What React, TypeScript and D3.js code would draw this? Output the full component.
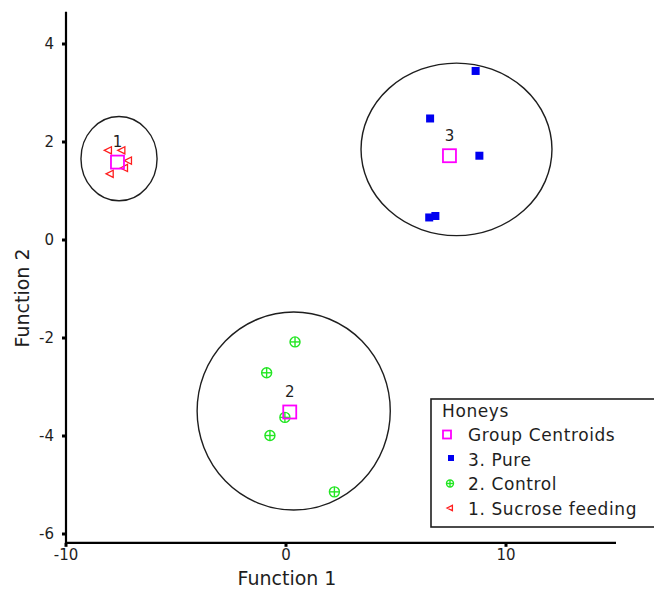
import * as React from 'react';
import * as d3 from 'd3';

// discriminant scores
const pureX = [8.62, 6.55, 8.79, 6.51, 6.79];
const pureY = [3.45, 2.48, 1.72, 0.46, 0.49];
const controlX = [0.41, -0.88, -0.05, -0.73, 2.2];
const controlY = [-2.08, -2.71, -3.62, -3.99, -5.14];
const sucroseX = [-8.08, -7.47, -7.17, -7.35, -8.0];
const sucroseY = [1.83, 1.83, 1.62, 1.47, 1.35];

const groupLabels = ['1', '2', '3'];
const centroidX = [-7.66, 0.17, 7.43];
const centroidY = [1.59, -3.51, 1.72];

// hand-drawn group outlines (data units)
const ringCx = [-7.59, 0.35, 7.75];
const ringCy = [1.66, -3.49, 1.85];
const ringRx = [1.73, 4.39, 4.34];
const ringRy = [0.86, 2.02, 1.76];

const xTicks = [-10, 0, 10];
const yTicks = [4, 2, 0, -2, -4, -6];
const legendTitle = 'Honeys';
const legendItems = ['Group Centroids', '3. Pure', '2. Control', '1. Sucrose feeding'];

const W = 654;
const H = 590;
const FONT = '"DejaVu Sans", sans-serif';
const INK = '#1e1e1e';
const MAGENTA = '#ff00ff';
const BLUE = '#0000f0';
const GREEN = '#22e622';
const RED = '#ff1e1e';

const x = d3.scaleLinear().domain([-10, 15]).range([66, 616]);
const y = d3.scaleLinear().domain([-6, 4]).range([534, 44]);
const yTop = 4.66;
const yBottom = -6.18;

function Square({ cx, cy, s }) {
  return <rect x={cx - s / 2} y={cy - s / 2} width={s} height={s} fill={BLUE} />;
}

function CrossCircle({ cx, cy, r }) {
  return (
    <g stroke={GREEN} strokeWidth={1.4} fill="none">
      <circle cx={cx} cy={cy} r={r} />
      <line x1={cx - r} x2={cx + r} y1={cy} y2={cy} />
      <line x1={cx} x2={cx} y1={cy - r} y2={cy + r} />
    </g>
  );
}

function Tri({ cx, cy, s }) {
  const d = `M${cx - s},${cy} L${cx + s * 0.8},${cy - s * 0.9} L${cx + s * 0.8},${cy + s * 0.9} Z`;
  return <path d={d} fill="none" stroke={RED} strokeWidth={1.3} />;
}

function Centroid({ cx, cy, s }) {
  return (
    <rect x={cx - s / 2} y={cy - s / 2} width={s} height={s} fill="none" stroke={MAGENTA} strokeWidth={1.8} />
  );
}

export default function App() {
  const x0 = x(-10);
  const yAxisBottom = y(yBottom);

  const legendX = 431;
  const legendTop = 399;
  const rowY = (i) => 411 + i * 24.5;

  return (
    <svg width={W} height={H} style={{ position: 'absolute', left: 0, top: 0, background: '#fff' }}>
      {/* group rings */}
      {ringCx.map((c, i) => (
        <ellipse
          key={'ring' + i}
          cx={x(c)}
          cy={y(ringCy[i])}
          rx={x(ringRx[i]) - x(0)}
          ry={y(0) - y(ringRy[i])}
          fill="none"
          stroke={INK}
          strokeWidth={1.4}
        />
      ))}

      {/* axes */}
      <line x1={x0} x2={x0} y1={y(yTop)} y2={yAxisBottom} stroke="#000" strokeWidth={2.2} />
      <line x1={x0 - 1} x2={x(15)} y1={yAxisBottom} y2={yAxisBottom} stroke="#000" strokeWidth={2.2} />
      {yTicks.map((t) => (
        <g key={'yt' + t}>
          <line x1={x0 - 4} x2={x0} y1={y(t)} y2={y(t)} stroke="#000" strokeWidth={3} />
          <text x={54} y={y(t)} dy="0.35em" textAnchor="end" fontFamily={FONT} fontSize={15} fill={INK}>
            {t}
          </text>
        </g>
      ))}
      {xTicks.map((t) => (
        <g key={'xt' + t}>
          <line x1={x(t)} x2={x(t)} y1={yAxisBottom} y2={yAxisBottom + 4} stroke="#000" strokeWidth={3} />
          <text x={x(t)} y={555} dy="0.35em" textAnchor="middle" fontFamily={FONT} fontSize={15} fill={INK}>
            {t}
          </text>
        </g>
      ))}
      <text x={287} y={578} dy="0.35em" textAnchor="middle" fontFamily={FONT} fontSize={19} fill={INK}>
        Function 1
      </text>
      <text
        transform={`translate(22,${298}) rotate(-90)`}
        dy="0.35em"
        textAnchor="middle"
        fontFamily={FONT}
        fontSize={19}
        fill={INK}
      >
        Function 2
      </text>

      {/* points */}
      {sucroseX.map((v, i) => (
        <Tri key={'s' + i} cx={x(v)} cy={y(sucroseY[i])} s={4} />
      ))}
      {controlX.map((v, i) => (
        <CrossCircle key={'c' + i} cx={x(v)} cy={y(controlY[i])} r={5} />
      ))}
      {pureX.map((v, i) => (
        <Square key={'p' + i} cx={x(v)} cy={y(pureY[i])} s={8} />
      ))}

      {/* centroids and their labels */}
      {centroidX.map((v, i) => (
        <g key={'g' + i}>
          <Centroid cx={x(v)} cy={y(centroidY[i])} s={13} />
          <text
            x={x(v)}
            y={y(centroidY[i]) - 20}
            dy="0.35em"
            textAnchor="middle"
            fontFamily={FONT}
            fontSize={15}
            fill={INK}
          >
            {groupLabels[i]}
          </text>
        </g>
      ))}

      {/* legend */}
      <rect x={legendX} y={legendTop} width={W - legendX + 5} height={527 - legendTop} fill="#fff" stroke={INK} strokeWidth={1.6} />
      <text x={442} y={rowY(0)} dy="0.35em" fontFamily={FONT} fontSize={17} letterSpacing={0.6} fill={INK}>
        {legendTitle}
      </text>
      {legendItems.map((label, i) => {
        const cy = rowY(i + 1);
        return (
          <g key={'li' + i}>
            {i === 0 && <Centroid cx={447} cy={cy - 1} s={8} />}
            {i === 1 && <Square cx={451} cy={cy - 2} s={6} />}
            {i === 2 && <CrossCircle cx={450} cy={cy - 1} r={3.5} />}
            {i === 3 && <Tri cx={450} cy={cy - 1} s={3} />}
            <text x={468} y={cy} dy="0.35em" fontFamily={FONT} fontSize={17} letterSpacing={0.6} fill={INK}>
              {label}
            </text>
          </g>
        );
      })}
    </svg>
  );
}
